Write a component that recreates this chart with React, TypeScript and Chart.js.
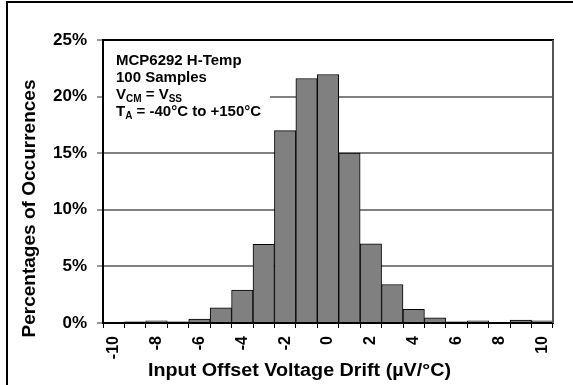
import { useEffect, useRef } from 'react';
import { Chart, registerables } from 'chart.js';

Chart.register(...registerables);

const categories = ['-10', '-9', '-8', '-7', '-6', '-5', '-4', '-3', '-2', '-1', '0', '1', '2', '3', '4', '5', '6', '7', '8', '9', '10'];
const occurrences = [0, 0.1, 0.2, 0.1, 0.35, 1.35, 2.9, 6.95, 17.0, 21.6, 21.95, 15.0, 7.0, 3.4, 1.2, 0.45, 0.1, 0.2, 0, 0.25, 0.2];
const xTickLabels = ['-10', '-8', '-6', '-4', '-2', '0', '2', '4', '6', '8', '10'];
const yTickValues = [0, 5, 10, 15, 20, 25];
const xTitle = 'Input Offset Voltage Drift (µV/°C)';
const yTitle = 'Percentages of Occurrences';
type Seg = { t: string; sub?: boolean };
const noteLines: Seg[][] = [
  [{ t: 'MCP6292 H-Temp' }],
  [{ t: '100 Samples' }],
  [{ t: 'V' }, { t: 'CM', sub: true }, { t: ' = V' }, { t: 'SS', sub: true }],
  [{ t: 'T' }, { t: 'A', sub: true }, { t: ' = -40°C to +150°C' }],
];

const FONT = '"Liberation Sans", Arial, sans-serif';

const decor = {
  id: 'decor',
  beforeDatasetsDraw(chart: any) {
    const { ctx, chartArea: a } = chart;
    ctx.save();
    ctx.fillStyle = '#fff';
    ctx.fillRect(a.left + 1, a.top + 4, 166, 82);
    ctx.restore();
  },
  afterDraw(chart: any) {
    const { ctx, chartArea: a } = chart;
    ctx.save();
    // plot frame top and right
    ctx.strokeStyle = '#000';
    ctx.lineWidth = 2;
    ctx.beginPath();
    ctx.moveTo(a.left - 1, a.top);
    ctx.lineTo(a.right + 1, a.top);
    ctx.stroke();
    ctx.strokeStyle = '#555';
    ctx.lineWidth = 2;
    ctx.beginPath();
    ctx.moveTo(a.right, a.top);
    ctx.lineTo(a.right, a.bottom);
    ctx.stroke();
    // outer frame
    ctx.fillStyle = '#000';
    ctx.fillRect(6, 1, chart.width - 6, 2);
    ctx.fillRect(6, 1, 2, chart.height - 1);

    // axis titles
    ctx.fillStyle = '#000';
    ctx.font = `bold 18px ${FONT}`;
    ctx.textBaseline = 'alphabetic';
    ctx.textAlign = 'center';
    // x title
    {
      const w = ctx.measureText(xTitle).width;
      const sx = 303 / w;
      ctx.save();
      ctx.translate(299.5, 376);
      ctx.scale(sx, 1);
      ctx.fillText(xTitle, 0, 0);
      ctx.restore();
    }
    // y title
    {
      const w = ctx.measureText(yTitle).width;
      const sx = 258 / w;
      ctx.save();
      ctx.translate(35, 208.5);
      ctx.rotate(-Math.PI / 2);
      ctx.scale(sx, 1);
      ctx.fillText(yTitle, 0, 0);
      ctx.restore();
    }

    // annotation
    ctx.textAlign = 'left';
    const x0 = a.left + 13;
    const baselines = [a.top + 24.5, a.top + 42, a.top + 58.5, a.top + 75.5];
    noteLines.forEach((line, i) => {
      let x = x0;
      line.forEach((seg) => {
        ctx.font = seg.sub ? `bold 10px ${FONT}` : `bold 15px ${FONT}`;
        const y = baselines[i] + (seg.sub ? 3 : 0);
        ctx.fillText(seg.t, x, y);
        x += ctx.measureText(seg.t).width;
      });
    });
    ctx.restore();
  },
};

export default function App() {
  const ref = useRef<HTMLCanvasElement | null>(null);
  useEffect(() => {
    if (!ref.current) return;
    Chart.defaults.color = '#000';
    const chart = new Chart(ref.current, {
      type: 'bar',
      data: {
        labels: categories,
        datasets: [
          {
            data: occurrences,
            backgroundColor: '#808080',
            borderColor: '#000',
            borderWidth: 1,
            barPercentage: 1,
            categoryPercentage: 1,
          },
        ],
      },
      options: {
        responsive: false,
        animation: false,
        devicePixelRatio: 1,
        layout: { padding: { left: 8, top: 40, right: 20, bottom: 0 } },
        plugins: { legend: { display: false }, tooltip: { enabled: false } },
        scales: {
          x: {
            type: 'category',
            offset: true,
            afterFit: (s: any) => {
              s.height = 62;
            },
            grid: {
              offset: true,
              drawOnChartArea: false,
              drawTicks: true,
              tickLength: 5,
              tickColor: '#000',
              tickWidth: 1,
            },
            border: { color: '#000', width: 2, z: 1 },
            ticks: {
              autoSkip: false,
              maxRotation: 90,
              minRotation: 90,
              padding: 8,
              color: '#000',
              font: { family: FONT, size: 16, weight: 'bold' },
              callback: (_v: any, i: number) => (xTickLabels.includes(categories[i]) ? categories[i] : ''),
            },
          },
          y: {
            min: yTickValues[0],
            max: yTickValues[yTickValues.length - 1],
            afterFit: (s: any) => {
              s.width = 95;
            },
            grid: {
              color: '#808080',
              lineWidth: 2,
              drawTicks: true,
              tickLength: 6,
              tickColor: '#333',
              tickWidth: 1,
            },
            border: { color: '#000', width: 2, z: 1 },
            ticks: {
              stepSize: 5,
              padding: 10,
              color: '#000',
              font: { family: FONT, size: 17, weight: 'bold' },
              callback: (v: any) => `${v}%`,
            },
          },
        },
      },
      plugins: [decor],
    });
    return () => chart.destroy();
  }, []);
  return (
    <canvas
      ref={ref}
      width={573}
      height={385}
      style={{ position: 'absolute', left: 0, top: 0, width: 573, height: 385 }}
    />
  );
}
